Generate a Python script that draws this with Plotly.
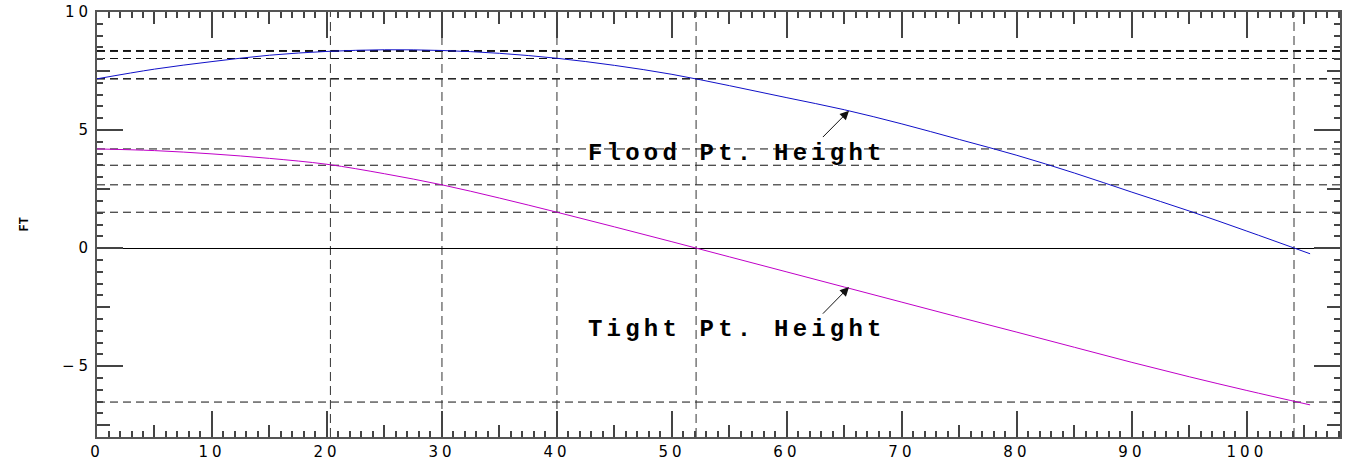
import plotly.graph_objects as go

# ---- data ----
x_pos = [0, 5, 10, 15, 20, 25, 30, 35, 40, 45, 50, 55, 60, 65, 70, 75, 80, 85, 90, 95, 100, 105.5]
flood = [7.17, 7.58, 7.90, 8.17, 8.33, 8.40, 8.37, 8.25, 8.04, 7.74, 7.36, 6.88, 6.37, 5.86,
         5.26, 4.60, 3.93, 3.18, 2.37, 1.57, 0.72, -0.24]
tight = [4.20, 4.13, 3.99, 3.80, 3.55, 3.15, 2.68, 2.12, 1.52, 0.90, 0.27, -0.37, -1.01, -1.65,
         -2.29, -2.93, -3.56, -4.20, -4.84, -5.45, -6.03, -6.64]

stations = [0, 20.3, 30, 40, 52.1, 104.1]
flood_at_station = [7.17, 8.33, 8.37, 8.03, 7.17, 0.0]
tight_at_station = [4.20, 3.51, 2.68, 1.52, 0.0, -6.52]

x_tick_vals = [0, 10, 20, 30, 40, 50, 60, 70, 80, 90, 100]
x_tick_text = ["0", "10", "20", "30", "40", "50", "60", "70", "80", "90", "100"]
y_tick_vals = [-5, 0, 5, 10]
y_tick_text = ["\u22125", "0", "5", "10"]

labels = ["Flood Pt. Height", "Tight Pt. Height"]
label_x = [42.5, 42.5]
label_y = [4.0, -3.45]
arrow_head_x = [65.4, 65.4]
arrow_head_y = [5.82, -1.65]
arrow_tail_x = [63.0, 63.0]
arrow_tail_y = [4.64, -2.84]

X_RANGE = [0, 108.1]
Y_RANGE = [-8, 10]

fig = go.Figure()
fig.add_trace(go.Scatter(x=x_pos, y=flood, mode="lines", line=dict(color="#1010c8", width=1, shape="spline"),
                         showlegend=False, hoverinfo="skip"))
fig.add_trace(go.Scatter(x=x_pos, y=tight, mode="lines", line=dict(color="#c000c8", width=1, shape="spline"),
                         showlegend=False, hoverinfo="skip"))
# dummy traces to activate overlay tick axes
fig.add_trace(go.Scatter(x=[None], y=[None], xaxis="x2", yaxis="y2", showlegend=False, hoverinfo="skip"))
fig.add_trace(go.Scatter(x=[None], y=[None], xaxis="x3", yaxis="y3", showlegend=False, hoverinfo="skip"))

DASH = "8px,5px"
for v in flood_at_station + tight_at_station:
    if v == 0:
        continue
    fig.add_shape(type="line", xref="paper", x0=0, x1=1, yref="y", y0=v, y1=v,
                  line=dict(color="#111", width=1, dash=DASH), layer="below")
for s in stations:
    if s == 0:
        continue
    fig.add_shape(type="line", xref="x", x0=s, x1=s, yref="paper", y0=0, y1=1,
                  line=dict(color="#333", width=1, dash="9px,5px"), layer="below")

sp = "<span style='letter-spacing:4.2px'>{}</span>"
for t, lx, ly in zip(labels, label_x, label_y):
    fig.add_annotation(x=lx, y=ly, xref="x", yref="y", text="<b>" + sp.format(t) + "</b>",
                       showarrow=False, xanchor="left", yanchor="middle",
                       font=dict(family="Liberation Mono", size=24, color="black"))
for hx, hy, tx, ty in zip(arrow_head_x, arrow_head_y, arrow_tail_x, arrow_tail_y):
    fig.add_annotation(x=hx, y=hy, ax=tx, ay=ty, xref="x", yref="y", axref="x", ayref="y",
                       text="", showarrow=True, arrowhead=2, arrowsize=1.8, arrowwidth=1,
                       arrowcolor="#111")

fig.add_annotation(xref="paper", yref="paper", x=0, y=0.5, xshift=-82, text="<b>FT</b>",
                   textangle=-90, showarrow=False, font=dict(family="Liberation Mono", size=12, color="black"))

tsp = "<span style='letter-spacing:4px'>{}</span>"
AX_COLOR = "#555"
TICK_COLOR = "#444"
common = dict(showgrid=False, showline=True, linecolor=AX_COLOR, linewidth=2, mirror="ticks",
              ticks="inside", tickcolor=TICK_COLOR, tickwidth=2, automargin=False, layer="above traces")

fig.update_layout(
    width=1345, height=461,
    margin=dict(l=97, r=5, t=12, b=24),
    plot_bgcolor="white", paper_bgcolor="white",
    xaxis=dict(range=X_RANGE, tickmode="array", tickvals=x_tick_vals,
               ticktext=[tsp.format(t) for t in x_tick_text], ticklen=26, zeroline=False,
               tickfont=dict(family="DejaVu Sans", size=15, color="black"),
               minor=dict(dtick=1, ticklen=6, ticks="inside", tickcolor=TICK_COLOR, tickwidth=1.5),
               ticklabelstandoff=0,
               **common),
    yaxis=dict(range=Y_RANGE, tickmode="array", tickvals=y_tick_vals,
               ticktext=[tsp.format(t) for t in y_tick_text], ticklen=26,
               zeroline=True, zerolinecolor="black", zerolinewidth=1,
               tickfont=dict(family="DejaVu Sans", size=15, color="black"),
               minor=dict(dtick=0.5, ticklen=6, ticks="inside", tickcolor=TICK_COLOR, tickwidth=1.5),
               ticklabelstandoff=0,
               **common),
    xaxis2=dict(overlaying="x", matches="x", anchor="y2", side="bottom", tickmode="linear", dtick=5, tick0=0,
                ticklen=12, showticklabels=False, zeroline=False, **common),
    yaxis2=dict(overlaying="y", matches="y", anchor="x2", side="left", tickmode="linear", dtick=2.5, tick0=0,
                ticklen=13, showticklabels=False, zeroline=False, **common),
    xaxis3=dict(overlaying="x", matches="x", anchor="y3", side="bottom", tickmode="linear", dtick=10, tick0=0,
                ticklen=26, showticklabels=False, zeroline=False, **common),
    yaxis3=dict(overlaying="y", matches="y", anchor="x3", side="left", tickmode="linear", dtick=5, tick0=0,
                ticklen=26, showticklabels=False, zeroline=False, **common),
)

fig.write_html("out.html")
